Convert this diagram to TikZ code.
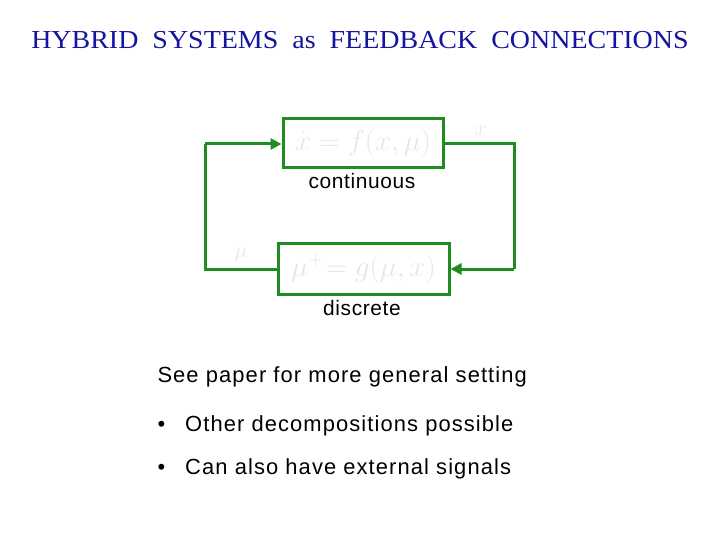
\RequirePackage{fix-cm}
\documentclass[tikz,border=0pt]{standalone}
\usepackage{fontspec}
\setmainfont{Liberation Serif}
\setsansfont{Liberation Sans}
\usetikzlibrary{arrows.meta}
\definecolor{lgreen}{RGB}{30,140,30}
\definecolor{titleblue}{RGB}{20,20,160}
\definecolor{faint}{RGB}{230,230,230}
\begin{document}
\begin{tikzpicture}[x=1bp,y=-1bp,
  blockbox/.style={draw=lgreen,line width=3bp,inner sep=0pt,text=faint,font=\fontsize{29}{32}\selectfont},
  wire/.style={draw=lgreen,line width=3bp},
  arr/.style={wire,-{Triangle[length=11bp,width=11bp]}},
  lbl/.style={text=faint,font=\fontsize{22}{24}\selectfont},
  body/.style={font=\sffamily\fontsize{22}{26}\selectfont\addfontfeature{LetterSpace=5},anchor=west},
  small/.style={font=\sffamily\fontsize{21}{24}\selectfont\addfontfeature{LetterSpace=3}}]
\useasboundingbox (0,0) rectangle (720,540);
\node[xscale=1.08] (title) at (360,40) {\color{titleblue}\fontsize{26}{30}\selectfont HYBRID\ \ SYSTEMS\ \ as\ \ FEEDBACK\ \ CONNECTIONS};
\node[blockbox,minimum width=160bp,minimum height=49bp] (cont) at (363,143.5) {$\dot x = f(x,\mu)$};
\node[blockbox,minimum width=171bp,minimum height=50bp] (disc) at (363.5,269) {$\mu^{+}\!= g(\mu,x)$};
\coordinate (tr) at (514,144);
\coordinate (br) at (514,269);
\coordinate (tl) at (205,144);
\coordinate (bl) at (205,269);
\draw[wire] (cont.east |- tr) -- (tr) -- (br);
\draw[arr] (br) -- (disc.east |- br);
\draw[wire] (disc.west |- bl) -- (bl) -- (tl);
\draw[arr] (tl) -- (cont.west |- tl);
\node[lbl] (xl) at (481,131) {$x$};
\node[lbl] (mul) at (241,255) {$\mu$};
\node[small] (ctext) at (362,181) {continuous};
\node[small] (dtext) at (362,308) {discrete};
\node[body] (see) at (154,377) {See paper for more general setting};
\node[body] (b1) at (154,426) {\textbullet\hspace{20bp}Other decompositions possible};
\node[body] (b2) at (154,469) {\textbullet\hspace{20bp}Can also have external signals};
\end{tikzpicture}
\end{document}
